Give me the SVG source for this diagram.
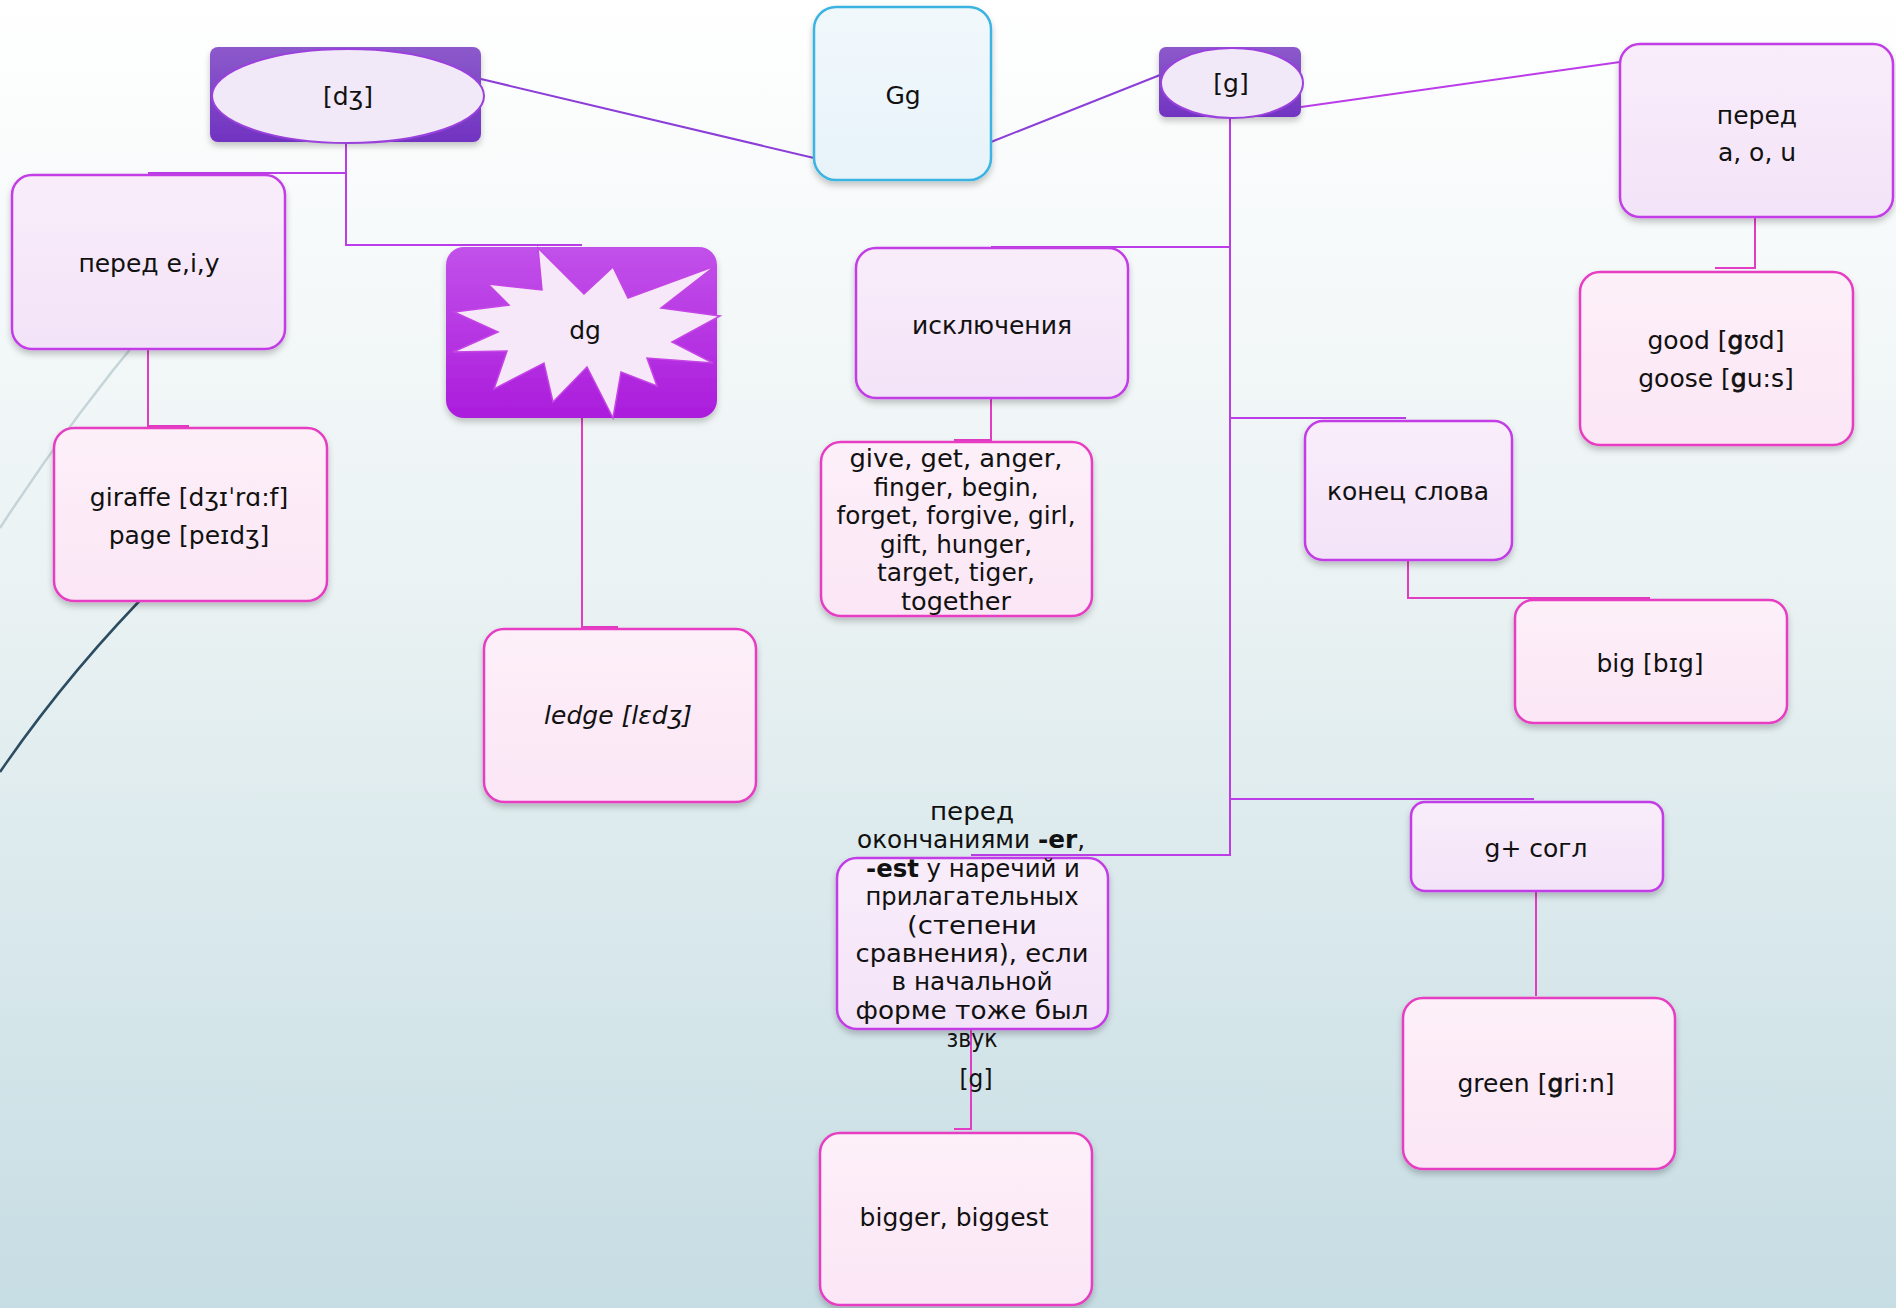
<svg xmlns="http://www.w3.org/2000/svg" width="1896" height="1308" viewBox="0 0 1896 1308">
<defs>
<linearGradient id="bg" x1="0" y1="0" x2="0" y2="1">
<stop offset="0" stop-color="#ffffff"/>
<stop offset="0.45" stop-color="#eaf2f3"/>
<stop offset="1" stop-color="#c6dde3"/>
</linearGradient>
<linearGradient id="gP" x1="0" y1="0" x2="0" y2="1">
<stop offset="0" stop-color="#f9edfa"/>
<stop offset="1" stop-color="#f3e3f8"/>
</linearGradient>
<linearGradient id="gK" x1="0" y1="0" x2="0" y2="1">
<stop offset="0" stop-color="#fdf0f9"/>
<stop offset="1" stop-color="#fbe6f5"/>
</linearGradient>
<linearGradient id="gV" x1="0" y1="0" x2="0" y2="1">
<stop offset="0" stop-color="#8c5acb"/>
<stop offset="1" stop-color="#7133c1"/>
</linearGradient>
<linearGradient id="gD" x1="0" y1="0" x2="0" y2="1">
<stop offset="0" stop-color="#c251ea"/>
<stop offset="1" stop-color="#ab1cdc"/>
</linearGradient>
<linearGradient id="gB" x1="0" y1="0" x2="0" y2="1">
<stop offset="0" stop-color="#f1f8fc"/>
<stop offset="1" stop-color="#e7f3f9"/>
</linearGradient>
<filter id="sh" x="-10%" y="-10%" width="120%" height="130%">
<feDropShadow dx="0" dy="4" stdDeviation="3" flood-color="#000" flood-opacity="0.22"/>
</filter>
<style>
.bp{fill:url(#gP);stroke:#c23ce6;stroke-width:2.5;filter:url(#sh)}
.bk{fill:url(#gK);stroke:#e63cc2;stroke-width:2.5;filter:url(#sh)}
.bv{fill:url(#gV);filter:url(#sh)}
.el{fill:#f1e9f8;stroke:#9a40dc;stroke-width:2}
.t{font-family:"DejaVu Sans","Liberation Sans",sans-serif;font-size:25px;fill:#111;text-anchor:middle;dominant-baseline:central}
.c{font-family:"DejaVu Sans","Liberation Sans",sans-serif;font-size:25px;fill:#111;text-anchor:middle;dominant-baseline:central}
.hb{stroke:#111;stroke-width:0.8}
.l1{fill:none;stroke:#8b3ed8;stroke-width:2}
.l2{fill:none;stroke:#bb3ce8;stroke-width:2}
.l3{fill:none;stroke:#e23cc4;stroke-width:2}
</style>
</defs>
<rect x="0" y="0" width="1896" height="1308" fill="url(#bg)"/>
<g id="decor">
<path d="M150,325 Q70,420 0,528" fill="none" stroke="#c4d4d8" stroke-width="2.5"/>
<path d="M160,580 Q70,670 0,772" fill="none" stroke="#2b4c61" stroke-width="2.5"/>
</g>
<g id="connectors">
<line class="l1" x1="481" y1="79" x2="814" y2="158"/>
<line class="l1" x1="991" y1="142" x2="1160" y2="75"/>
<line class="l2" x1="1301" y1="107" x2="1620" y2="62"/>
<polyline class="l2" points="346,142 346,173 148,173"/>
<polyline class="l2" points="346,173 346,245 582,245"/>
<polyline class="l3" points="148,349 148,426 189,426"/>
<polyline class="l3" points="582,418 582,627 618,627"/>
<polyline class="l3" points="1755,217 1755,268 1715,268"/>
<polyline class="l2" points="1230,118 1230,855 971,855"/>
<polyline class="l2" points="1230,247 991,247"/>
<polyline class="l2" points="1230,418 1406,418"/>
<polyline class="l2" points="1230,799 1534,799"/>
<polyline class="l3" points="991,398 991,440 954,440"/>
<polyline class="l3" points="1408,560 1408,598 1650,598"/>
<polyline class="l3" points="1536,891 1536,996"/>
<polyline class="l3" points="971,1028 971,1129 954,1129"/>
</g>
<g id="n-dzh">
<rect class="bv" x="210" y="47" width="271" height="95" rx="8"/>
<ellipse class="el" cx="348" cy="96" rx="136" ry="47"/>
<text class="t" x="348" y="96" font-size="29">[dʒ]</text>
</g>
<g id="n-Gg">
<rect x="814" y="7" width="177" height="173" rx="22" fill="url(#gB)" stroke="#3ab4e2" stroke-width="2.5" filter="url(#sh)"/>
<text class="t" x="903" y="95" font-size="29">Gg</text>
</g>
<g id="n-g">
<rect class="bv" x="1159" y="47" width="142" height="70" rx="7"/>
<ellipse class="el" cx="1232" cy="83" rx="71" ry="35"/>
<text class="t" x="1231" y="83" font-size="29">[g]</text>
</g>
<g id="n-pered-aou">
<rect class="bp" x="1620" y="44" width="273" height="173" rx="20"/>
<text class="t" x="1757" y="115">перед</text>
<text class="t" x="1757" y="152">a, o, u</text>
</g>
<g id="n-good">
<rect class="bk" x="1580" y="272" width="273" height="173" rx="20"/>
<text class="t" x="1716" y="340">good [<tspan class="hb">g</tspan>ʊd]</text>
<text class="t" x="1716" y="378">goose [<tspan class="hb">g</tspan>u:s]</text>
</g>
<g id="n-pered-eiy">
<rect class="bp" x="12" y="175" width="273" height="174" rx="20"/>
<text class="t" x="149" y="263">перед e,i,y</text>
</g>
<g id="n-giraffe">
<rect class="bk" x="54" y="428" width="273" height="173" rx="20"/>
<text class="t" x="189" y="497">giraffe [dʒɪˈrɑ:f]</text>
<text class="t" x="189" y="535">page [peɪdʒ]</text>
</g>
<g id="n-dg">
<rect x="446" y="247" width="271" height="171" rx="18" fill="url(#gD)" filter="url(#sh)"/>
<polygon points="538,248 584,294 613,267 628,298 715,266 661,308 720,316 672,342 713,363 647,358 657,386 621,372 613,418 587,367 553,402 544,363 494,389 507,351 453,352 498,332 454,312 509,305 488,284 542,290" fill="#f6e8f8" stroke="#c545e6" stroke-width="1.5"/>
<text class="t" x="585" y="330" font-size="28">dg</text>
</g>
<g id="n-ledge">
<rect class="bk" x="484" y="629" width="272" height="173" rx="20"/>
<text class="t" x="618" y="715" font-style="italic">ledge [lɛdʒ]</text>
</g>
<g id="n-iskl">
<rect class="bp" x="856" y="248" width="272" height="150" rx="20"/>
<text class="t" x="992" y="325">исключения</text>
</g>
<g id="n-give">
<rect class="bk" x="821" y="442" width="271" height="174" rx="20"/>
<text class="c" x="956" y="458" textLength="213" lengthAdjust="spacingAndGlyphs">give, get, anger,</text>
<text class="c" x="956" y="487" textLength="165" lengthAdjust="spacingAndGlyphs">finger, begin,</text>
<text class="c" x="956" y="515" textLength="239" lengthAdjust="spacingAndGlyphs">forget, forgive, girl,</text>
<text class="c" x="956" y="544" textLength="152" lengthAdjust="spacingAndGlyphs">gift, hunger,</text>
<text class="c" x="956" y="572" textLength="158" lengthAdjust="spacingAndGlyphs">target, tiger,</text>
<text class="c" x="956" y="601" textLength="110" lengthAdjust="spacingAndGlyphs">together</text>
</g>
<g id="n-konec">
<rect class="bp" x="1305" y="421" width="207" height="139" rx="18"/>
<text class="t" x="1408" y="491">конец слова</text>
</g>
<g id="n-big">
<rect class="bk" x="1515" y="600" width="272" height="123" rx="18"/>
<text class="t" x="1650" y="663">big [bɪg]</text>
</g>
<g id="n-gsogl">
<rect class="bp" x="1411" y="802" width="252" height="89" rx="14"/>
<text class="t" x="1536" y="848">g+ согл</text>
</g>
<g id="n-green">
<rect class="bk" x="1403" y="998" width="272" height="171" rx="20"/>
<text class="t" x="1536" y="1083">green [<tspan class="hb">g</tspan>ri:n]</text>
</g>
<g id="n-okonch">
<rect class="bp" x="837" y="858" width="271" height="171" rx="20"/>
<text class="c" x="972" y="811" textLength="84" lengthAdjust="spacingAndGlyphs">перед</text>
<text class="c" x="971" y="839" textLength="228" lengthAdjust="spacingAndGlyphs">окончаниями <tspan font-weight="bold">-er</tspan>,</text>
<text class="c" x="973" y="868" textLength="214" lengthAdjust="spacingAndGlyphs"><tspan font-weight="bold">-est</tspan> у наречий и</text>
<text class="c" x="972" y="896" textLength="213" lengthAdjust="spacingAndGlyphs">прилагательных</text>
<text class="c" x="972" y="925" textLength="130" lengthAdjust="spacingAndGlyphs">(степени</text>
<text class="c" x="972" y="953" textLength="233" lengthAdjust="spacingAndGlyphs">сравнения), если</text>
<text class="c" x="972" y="981" textLength="161" lengthAdjust="spacingAndGlyphs">в начальной</text>
<text class="c" x="972" y="1010" textLength="233" lengthAdjust="spacingAndGlyphs">форме тоже был</text>
<text class="c" x="972" y="1038" textLength="51" lengthAdjust="spacingAndGlyphs">звук</text>
<text class="c" x="976" y="1078" textLength="33" lengthAdjust="spacingAndGlyphs">[g]</text>
</g>
<g id="n-bigger">
<rect class="bk" x="820" y="1133" width="272" height="172" rx="20"/>
<text class="t" x="954" y="1217">bigger, biggest</text>
</g>
</svg>
